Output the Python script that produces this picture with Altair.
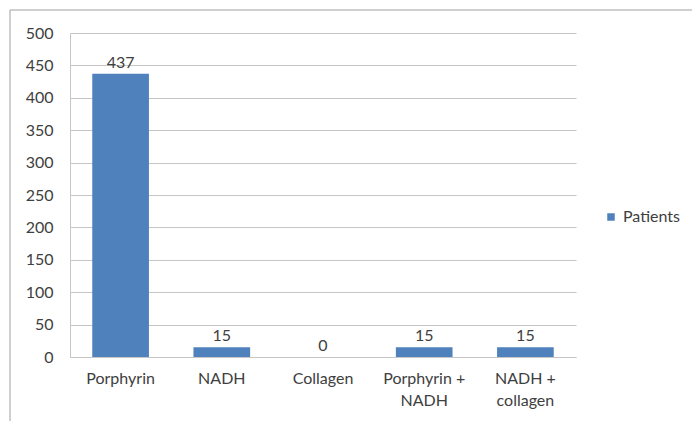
import altair as alt
import pandas as pd

categories = ["Porphyrin", "NADH", "Collagen", "Porphyrin + NADH", "NADH + collagen"]
patients = [437, 15, 0, 15, 15]
series_name = "Patients"
y_ticks = [0, 50, 100, 150, 200, 250, 300, 350, 400, 450, 500]

df = pd.DataFrame({"category": categories, "value": patients, "series": [series_name] * len(categories)})

FONT = "Lato"
FS = 16
GRID = "#c6c6c6"
TXT = "#404040"
BLUE = "#4F81BD"

x_enc = alt.X("category:N", sort=categories,
              scale=alt.Scale(paddingInner=0.44, paddingOuter=0.22),
              axis=alt.Axis(title=None, labelAngle=0, ticks=False, labelPadding=13,
                            labelFont=FONT, labelFontSize=FS, labelColor=TXT,
                            labelLineHeight=22, domainColor=GRID, labelBaseline="top",
                            labelOverlap=False,
                            labelExpr="split(replace(datum.label, ' + ', ' +|'), '|')"))
y_enc = alt.Y("value:Q", scale=alt.Scale(domain=[0, 500], nice=False),
              axis=alt.Axis(title=None, values=y_ticks, ticks=False, labelPadding=17,
                            labelFont=FONT, labelFontSize=FS, labelColor=TXT,
                            labelOverlap=False, gridColor=GRID, domainColor=GRID))

base = alt.Chart(df).encode(x=x_enc, y=y_enc)

bars = base.mark_bar(color=BLUE).encode(
    color=alt.Color("series:N", scale=alt.Scale(domain=[series_name], range=[BLUE]),
                    legend=alt.Legend(title=None, orient="none", legendX=533, legendY=176,
                                      symbolType="square", symbolSize=56, symbolStrokeWidth=0,
                                      labelFont=FONT, labelFontSize=FS, labelColor=TXT,
                                      labelOffset=4))
)

labels = base.mark_text(baseline="bottom", dy=-3, font=FONT, fontSize=FS, color=TXT).encode(
    text="value:Q"
)

frame_data = alt.Data(values=[{"k": 1}])
top_line = alt.Chart(frame_data).mark_rule(color="#a0a0a0", strokeWidth=1).encode(
    x=alt.value(-60), x2=alt.value(640), y=alt.value(-23))
left_line = alt.Chart(frame_data).mark_rule(color="#a0a0a0", strokeWidth=1).encode(
    x=alt.value(-60), y=alt.value(-23), y2=alt.value(420))

chart = alt.layer(bars, labels, top_line, left_line).properties(
    width=506, height=324,
    autosize=alt.AutoSizeParams(type="none"),
    padding={"left": 70, "top": 33, "right": 116, "bottom": 64},
    background="white",
).configure_view(stroke=None)

chart.save("out.html", embed_options={"renderer": "svg", "actions": False})
